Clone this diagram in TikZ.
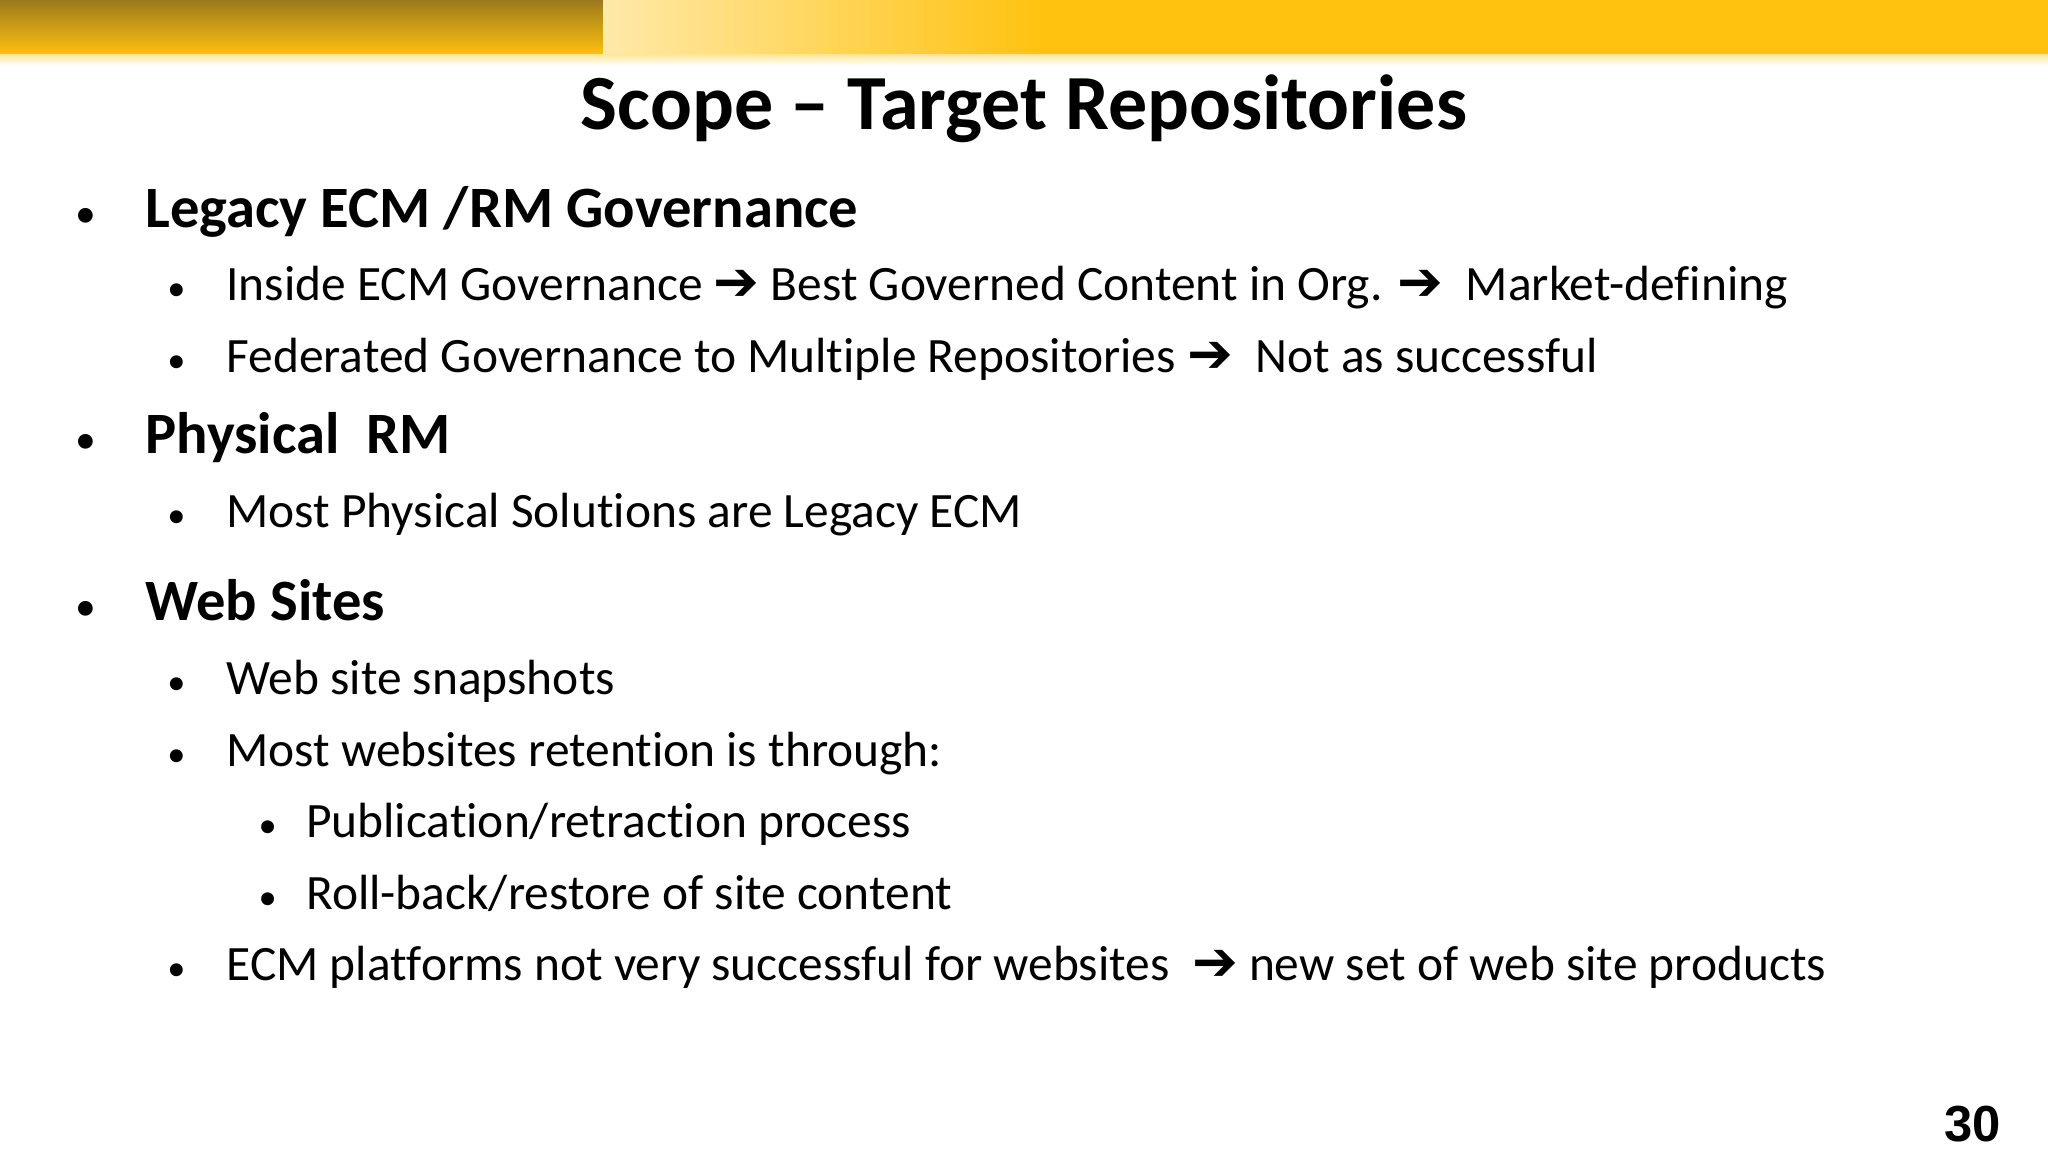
\documentclass[tikz,border=0pt]{standalone}
\usepackage{fontspec}
\setmainfont[Ligatures=NoCommon]{Carlito}
\newfontfamily\arr{DejaVu Sans}
\newfontfamily\numf{Liberation Sans}
\definecolor{gold}{HTML}{FFC20E}
\definecolor{darkgold}{HTML}{9C7A1C}
\definecolor{lightgold}{HTML}{FFE9A8}
\begin{document}
\begin{tikzpicture}[x=0.5bp,y=-0.5bp,
  t1/.style={anchor=base west,inner sep=0,font=\fontsize{22.5}{26}\selectfont\bfseries},
  t2/.style={anchor=base west,inner sep=0,font=\fontsize{19}{22}\selectfont},
  bl/.style={anchor=base,inner sep=0}]
\useasboundingbox (0,0) rectangle (1568,882);
\fill[white] (0,0) rectangle (1568,882);
\shade[top color=darkgold, bottom color=gold] (0,0) rectangle (462,42);
\shade[left color=lightgold, right color=gold] (462,0) rectangle (800,42);
\fill[gold] (800,0) rectangle (1568,42);
\shade[top color=gold!40, bottom color=white] (0,42) rectangle (1568,50);
\node[anchor=base,inner sep=0,font=\fontsize{30}{34}\selectfont\bfseries] (title) at (784,99) {Scope – Target Repositories};
\def\Lone#1#2#3{\node[bl,font=\fontsize{16}{20}\selectfont] (b#1) at (66,#2) {•};\node[t1] (n#1) at (111,#2) {#3};}
\def\Ltwo#1#2#3{\node[bl,font=\fontsize{14}{18}\selectfont] (b#1) at (135,#2) {•};\node[t2] (n#1) at (173,#2) {#3};}
\def\Lthree#1#2#3{\node[bl,font=\fontsize{14}{18}\selectfont] (b#1) at (205,#2) {•};\node[t2] (n#1) at (234,#2) {#3};}
\def\A{{\arr\bfseries\fontsize{21}{22}\selectfont ➔}}
\Lone{a}{174}{Legacy ECM /RM Governance}
\Ltwo{b}{230}{Inside ECM Governance \A{} Best Governed Content in Org. \A{}\ \ Market-defining}
\Ltwo{c}{285}{Federated Governance to Multiple Repositories \A{}\ \ Not as successful}
\Lone{d}{347}{Physical\ \ RM}
\Ltwo{e}{404}{Most Physical Solutions are Legacy ECM}
\Lone{f}{475}{Web Sites}
\Ltwo{g}{532}{Web site snapshots}
\Ltwo{h}{587}{Most websites retention is through:}
\Lthree{i}{641}{Publication/retraction process}
\Lthree{j}{696}{Roll-back/restore of site content}
\Ltwo{k}{751}{ECM platforms not very successful for websites\ \ \A{} new set of web site products}
\node[anchor=base east,inner sep=0,font=\numf\fontsize{19.5}{22}\selectfont\bfseries] (pg) at (1532,874) {30};
\end{tikzpicture}
\end{document}
